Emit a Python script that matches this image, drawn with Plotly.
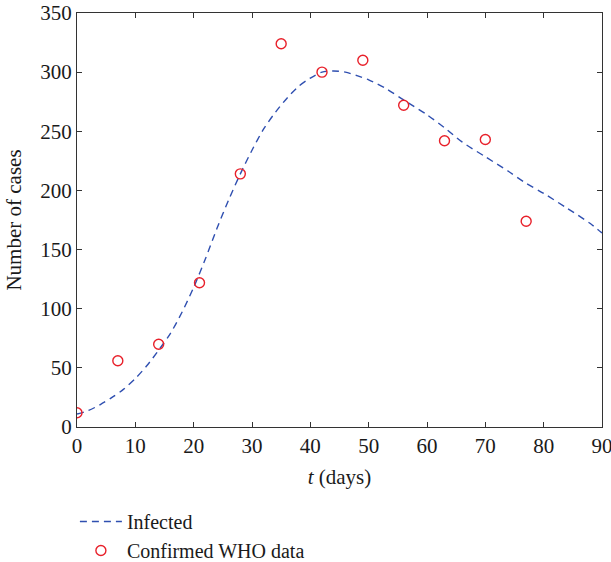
import plotly.graph_objects as go

# Model curve (Infected)
t_model = [0, 2, 4, 6, 8, 10, 12, 14, 16, 18, 20, 22, 24, 26, 28, 30, 32, 34, 36, 38,
           40, 42, 44, 46, 48, 50, 53, 56, 60, 63, 66, 70, 74, 77, 80, 84, 88, 90]
infected = [11, 14, 19, 25, 32, 41, 52, 65, 79, 97, 118, 142, 168, 192, 214, 234, 252, 266,
            278, 288, 295, 300, 301, 300, 297, 293.5, 286, 276.5, 264, 253, 241, 228.5,
            216, 206, 197.5, 185, 172, 164]

# WHO confirmed data
t_data = [0, 7, 14, 21, 28, 35, 42, 49, 56, 63, 70, 77]
who_cases = [12, 56, 70, 122, 214, 324, 300, 310, 272, 242, 243, 174]

x_ticks = [0, 10, 20, 30, 40, 50, 60, 70, 80, 90]
y_ticks = [0, 50, 100, 150, 200, 250, 300, 350]

FONT = "Liberation Serif"

fig = go.Figure()
fig.add_trace(go.Scatter(
    x=t_model, y=infected, mode="lines", name="Infected",
    line=dict(color="#2f4fb0", width=1.4, dash="7px,5px", shape="spline", smoothing=0.8),
))
fig.add_trace(go.Scatter(
    x=t_data, y=who_cases, mode="markers", name="Confirmed WHO data",
    marker=dict(symbol="circle-open", size=10, color="#e8202a", line=dict(width=1.4)),
))

axis_common = dict(
    showline=True, linecolor="#333333", linewidth=1, mirror="ticks",
    ticks="inside", ticklen=5, tickcolor="#333333", tickwidth=1,
    showgrid=False, zeroline=False, automargin=False, ticklabeloverflow="allow",
    tickfont=dict(family=FONT, size=21, color="#1a1a1a"),
)

fig.update_layout(
    width=611, height=562,
    margin=dict(l=77, r=9, t=13, b=135, autoexpand=False),
    paper_bgcolor="white", plot_bgcolor="white",
    font=dict(family=FONT, size=20, color="#1a1a1a"),
    xaxis=dict(range=[0, 90], tickvals=x_ticks,
               title=dict(text="<i>t</i> (days)", font=dict(family=FONT, size=21), standoff=12),
               **axis_common),
    yaxis=dict(range=[0, 350], tickvals=y_ticks,
               title=dict(text="Number of cases", font=dict(family=FONT, size=21), standoff=12),
               **axis_common),
    legend=dict(x=-0.004, y=-0.181, xanchor="left", yanchor="top",
                font=dict(family=FONT, size=20), bgcolor="rgba(0,0,0,0)",
                itemwidth=42, tracegroupgap=0),
    showlegend=True,
)

# remove the browser's default 8px body margin so the figure sits at the page origin
fig.write_html("out.html", config={"displayModeBar": False},
               post_script="document.body.style.margin='0';")
